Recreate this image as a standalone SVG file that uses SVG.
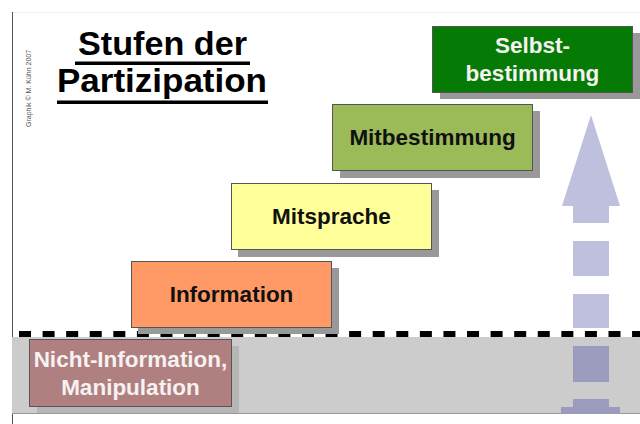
<svg xmlns="http://www.w3.org/2000/svg" width="640" height="424" viewBox="0 0 640 424">
<style>
.lbl{font-family:"Liberation Sans",Arial,sans-serif;font-weight:bold;font-size:22.5px;text-anchor:middle}
.dark{fill:#111}
.light{fill:#f6f2f2}
.box{stroke:#555;stroke-width:1}
.shadow{fill:#999}
.title{font-family:"Liberation Sans",Arial,sans-serif;font-weight:bold;font-size:33px;text-anchor:middle;fill:#000}
.arr{fill:#bfc0de}
.arr2{fill:#9b9bbd}
</style>
<rect x="0" y="0" width="640" height="424" fill="#fff"/>
<g id="frame">
<line x1="12" y1="12.5" x2="640" y2="12.5" stroke="#eeeeee" stroke-width="1"/>
<line x1="12.5" y1="12" x2="12.5" y2="424" stroke="#555" stroke-width="1"/>
<rect x="12" y="337" width="628" height="77" fill="#cccccc"/>
<line x1="12" y1="413.5" x2="640" y2="413.5" stroke="#999" stroke-width="1"/>
</g>
<g id="copyright">
<text transform="translate(31,127) rotate(-90)" font-family="'Liberation Sans',Arial,sans-serif" font-size="7" fill="#555">Graphik © M. Kühn 2007</text>
</g>
<g id="title">
<text class="title" x="162.5" y="55" textLength="169" lengthAdjust="spacingAndGlyphs">Stufen der</text>
<rect x="75" y="61.5" width="175" height="3.5" fill="#000"/>
<text class="title" x="162" y="92" textLength="210" lengthAdjust="spacingAndGlyphs">Partizipation</text>
<rect x="57" y="100.5" width="211" height="3.5" fill="#000"/>
</g>
<g id="connectors">
<g id="progress-arrow">
<polygon class="arr" points="591,115 620,206 609,206 609,223 573,223 573,206 562,206"/>
<rect class="arr" x="573" y="241" width="36" height="35"/>
<rect class="arr" x="573" y="294" width="36" height="34"/>
<rect class="arr2" x="573" y="346" width="36" height="36"/>
<rect class="arr2" x="573" y="399" width="36" height="9"/>
<rect class="arr2" x="561" y="407" width="59" height="7"/>
</g>
</g>
<g id="node-nicht-information">
<rect x="37" y="346" width="202" height="67" fill="#b6b6b6"/>
<rect class="box" x="29.5" y="339.5" width="202" height="67" fill="#b08080"/>
<text class="lbl light" x="130.5" y="367">Nicht-Information,</text>
<text class="lbl light" x="130.5" y="395">Manipulation</text>
</g>
<g id="baseline-dashes">
<line x1="19" y1="334" x2="640" y2="334" stroke="#000" stroke-width="6" stroke-dasharray="12 11.58"/>
</g>
<g id="node-information">
<rect class="shadow" x="138" y="268" width="201" height="66"/>
<rect class="box" x="131.5" y="261.5" width="200" height="66" fill="#ff9966"/>
<text class="lbl dark" x="231.5" y="302">Information</text>
</g>
<g id="node-mitsprache">
<rect class="shadow" x="238" y="190" width="201" height="67"/>
<rect class="box" x="231.5" y="183.5" width="200" height="66" fill="#ffff99"/>
<text class="lbl dark" x="331.5" y="223.5">Mitsprache</text>
</g>
<g id="node-mitbestimmung">
<rect class="shadow" x="340" y="111" width="200" height="67"/>
<rect class="box" x="332.5" y="104.5" width="200" height="66" fill="#9bbb59"/>
<text class="lbl dark" x="432.5" y="145">Mitbestimmung</text>
</g>
<g id="node-selbstbestimmung">
<rect class="shadow" x="440" y="33" width="200" height="66"/>
<rect class="box" x="432.5" y="26.5" width="200" height="66" fill="#057a05"/>
<text class="lbl light" x="532.5" y="53">Selbst-</text>
<text class="lbl light" x="532.5" y="81">bestimmung</text>
</g>
</svg>
